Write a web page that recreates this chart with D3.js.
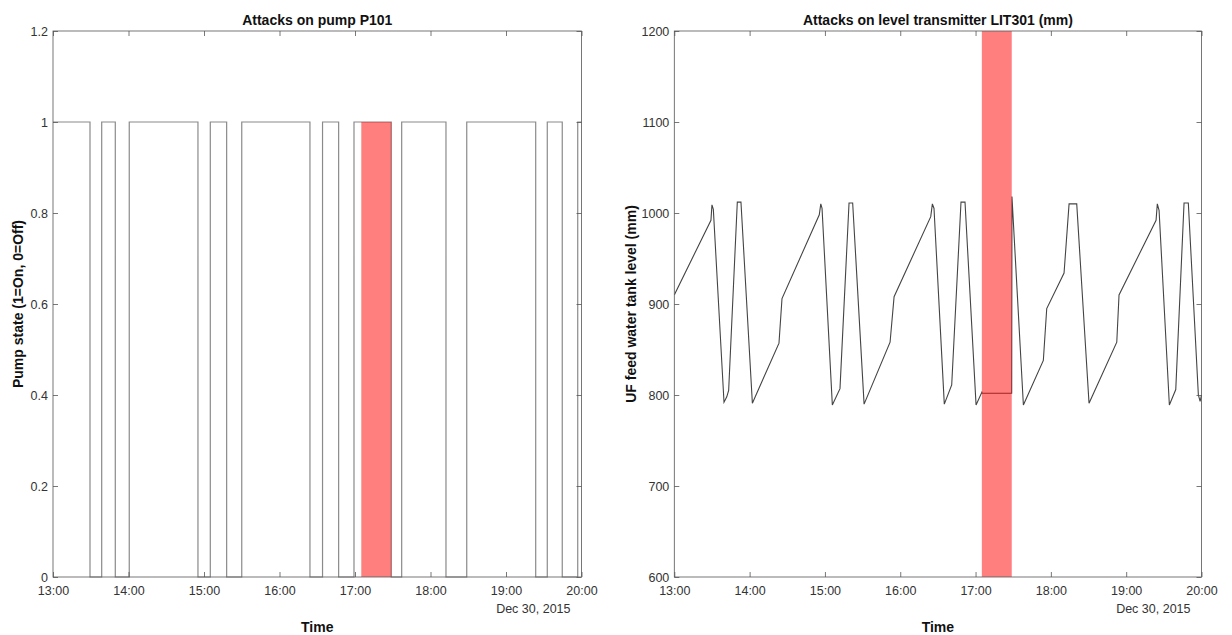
<!DOCTYPE html>
<html>
<head>
<meta charset="utf-8">
<script src="https://cdn.jsdelivr.net/npm/d3@7"></script>
<style>
  html, body { margin: 0; padding: 0; background: #fff; }
  svg { display: block; font-family: "Liberation Sans", Arial, Helvetica, sans-serif; }
</style>
</head>
<body>
<svg id="chart" width="1232" height="635"></svg>
<script>
// ---------------- DATA ----------------
const day = "2015-12-30";
const timeDomain = ["13:00:00", "20:00:00"];
const xTickTimes = ["13:00:00","14:00:00","15:00:00","16:00:00","17:00:00","18:00:00","19:00:00","20:00:00"];
const dateLabel = "Dec 30, 2015";
const attackWindow = ["17:05:00", "17:28:50"];

// Pump P101 state changes (time at which the new state begins)
const pumpTimes = ["13:00:00","13:29:24","13:38:42","13:49:30","14:00:36","14:55:12","15:05:00","15:18:00",
  "15:30:00","16:24:12","16:34:12","16:47:00","16:59:12","17:28:50","17:37:06","18:12:18","18:28:48",
  "19:23:36","19:32:48","19:44:42","19:57:00","20:00:00"];
const pumpStates = [1,0,1,0,1,0,1,0,1,0,1,0,1,0,1,0,1,0,1,0,1,1];
const pumpYTicks = [0, 0.2, 0.4, 0.6, 0.8, 1, 1.2];

// LIT301 level readings (mm)
const levelTimes = ["13:00:00","13:29:12","13:30:00","13:31:06","13:39:36","13:41:48","13:43:18","13:50:12",
  "13:53:06","14:02:12","14:23:24","14:25:48","14:55:30","14:56:42","14:57:42","15:05:54","15:12:00",
  "15:19:12","15:22:06","15:31:12","15:51:54","15:55:06","16:24:18","16:25:36","16:26:54","16:35:06",
  "16:41:00","16:48:24","16:51:36","17:00:24","17:05:00","17:05:12","17:28:48","17:29:00","17:38:06",
  "17:54:00","17:56:42","18:10:30","18:14:30","18:20:36","18:30:24","18:52:30","18:54:18","19:23:48",
  "19:24:48","19:26:12","19:34:24","19:39:30","19:46:06","19:49:30","19:57:30","19:58:54","20:00:00"];
const levelValues = [910,992,1009,1004,792,798,805,1012,1012,791,857,906,998,1010,1005,789,807,1011,1011,
  790,858,908,996,1010,1005,790,811,1012,1012,789,803,802,802,1018,789,838,895,934,1010,1010,791,858,910,
  992,1010,1003,789,806,1011,1011,800,793,800];
const levelYTicks = [600, 700, 800, 900, 1000, 1100, 1200];

// ---------------- DRAW ----------------
const parse = d3.timeParse("%Y-%m-%d %H:%M:%S");
const T = s => parse(day + " " + s);
const svg = d3.select("#chart");
svg.append("rect").attr("width", 1232).attr("height", 635).attr("fill", "#fff");

const axisColor = "#555";
const textColor = "#333";
const tickFont = "12.5px";

function panel(opts) {
  const { left, right, top, bottom, yDomain, yTicks, title, ylabel } = opts;
  const g = svg.append("g");
  const x = d3.scaleTime().domain(timeDomain.map(T)).range([left, right]);
  const y = d3.scaleLinear().domain(yDomain).range([bottom, top]);

  const clipId = "clip" + Math.round(left);
  svg.append("clipPath").attr("id", clipId).append("rect")
    .attr("x", left).attr("y", top - 2).attr("width", right - left + 1).attr("height", bottom - top + 4);

  const plot = g.append("g").attr("clip-path", `url(#${clipId})`);
  opts.drawData(plot, x, y);

  // attack band
  plot.append("rect")
    .attr("x", x(T(attackWindow[0])))
    .attr("width", x(T(attackWindow[1])) - x(T(attackWindow[0])))
    .attr("y", y(opts.bandTop))
    .attr("height", y(opts.bandBottom) - y(opts.bandTop))
    .attr("fill", "#ff0000").attr("fill-opacity", 0.5);

  // box
  g.append("rect").attr("x", left).attr("y", top).attr("width", right - left).attr("height", bottom - top)
    .attr("fill", "none").attr("stroke", axisColor).attr("stroke-width", 0.8);

  const xt = xTickTimes.map(T);
  const fmtT = d3.timeFormat("%H:%M");
  const ax = g.append("g").attr("transform", `translate(0,${bottom})`)
    .call(d3.axisBottom(x).tickValues(xt).tickFormat(fmtT).tickSizeInner(-5).tickSizeOuter(0).tickPadding(9));
  const axT = g.append("g").attr("transform", `translate(0,${top})`)
    .call(d3.axisTop(x).tickValues(xt).tickFormat("").tickSizeInner(-5).tickSizeOuter(0));
  const fmtY = d3.format("~g");
  const ay = g.append("g").attr("transform", `translate(${left},0)`)
    .call(d3.axisLeft(y).tickValues(yTicks).tickFormat(fmtY).tickSizeInner(-5).tickSizeOuter(0).tickPadding(5));
  const ayR = g.append("g").attr("transform", `translate(${right},0)`)
    .call(d3.axisRight(y).tickValues(yTicks).tickFormat("").tickSizeInner(-5).tickSizeOuter(0));
  [ax, axT, ay, ayR].forEach(a => {
    a.select(".domain").remove();
    a.selectAll(".tick line").attr("stroke", axisColor).attr("stroke-width", 0.8);
    a.selectAll(".tick text").attr("fill", textColor).style("font-size", tickFont).attr("font-family", null);
    a.attr("font-family", null).attr("font-size", null);
  });

  g.append("text").attr("x", right - 11).attr("y", 613).attr("text-anchor", "end")
    .attr("fill", textColor).style("font-size", tickFont).text(dateLabel);

  g.append("text").attr("x", (left + right) / 2).attr("y", 632).attr("text-anchor", "middle")
    .attr("fill", "#111").style("font-size", "14px").style("font-weight", "bold").text("Time");

  g.append("text").attr("x", (left + right) / 2).attr("y", 25).attr("text-anchor", "middle")
    .attr("fill", "#111").style("font-size", "14px").style("font-weight", "bold").text(title);

  g.append("text").attr("transform", `translate(${opts.ylabelX},${(top + bottom) / 2}) rotate(-90)`)
    .attr("text-anchor", "middle").attr("dy", "0.35em")
    .attr("fill", "#111").style("font-size", "14px").style("font-weight", "bold").text(ylabel);
}

panel({
  left: 53, right: 581.5, top: 31, bottom: 577,
  yDomain: [0, 1.2], yTicks: pumpYTicks,
  title: "Attacks on pump P101", ylabel: "Pump state (1=On, 0=Off)", ylabelX: 18,
  bandTop: 1, bandBottom: 0,
  drawData: (p, x, y) => {
    const pts = pumpTimes.map((t, i) => ({ t: T(t), v: pumpStates[i] }));
    p.append("path").datum(pts)
      .attr("d", d3.line().x(d => x(d.t)).y(d => y(d.v)).curve(d3.curveStepAfter))
      .attr("fill", "none").attr("stroke", "#8a8a8a").attr("stroke-width", 1.2);
  }
});

panel({
  left: 674.3, right: 1201.5, top: 31, bottom: 577,
  yDomain: [600, 1200], yTicks: levelYTicks,
  title: "Attacks on level transmitter LIT301 (mm)", ylabel: "UF feed water tank level (mm)", ylabelX: 631,
  bandTop: 1200, bandBottom: 600,
  drawData: (p, x, y) => {
    const pts = levelTimes.map((t, i) => ({ t: T(t), v: levelValues[i] }));
    p.append("path").datum(pts)
      .attr("d", d3.line().x(d => x(d.t)).y(d => y(d.v)))
      .attr("fill", "none").attr("stroke", "#444").attr("stroke-width", 1.1);
  }
});
</script>
</body>
</html>
